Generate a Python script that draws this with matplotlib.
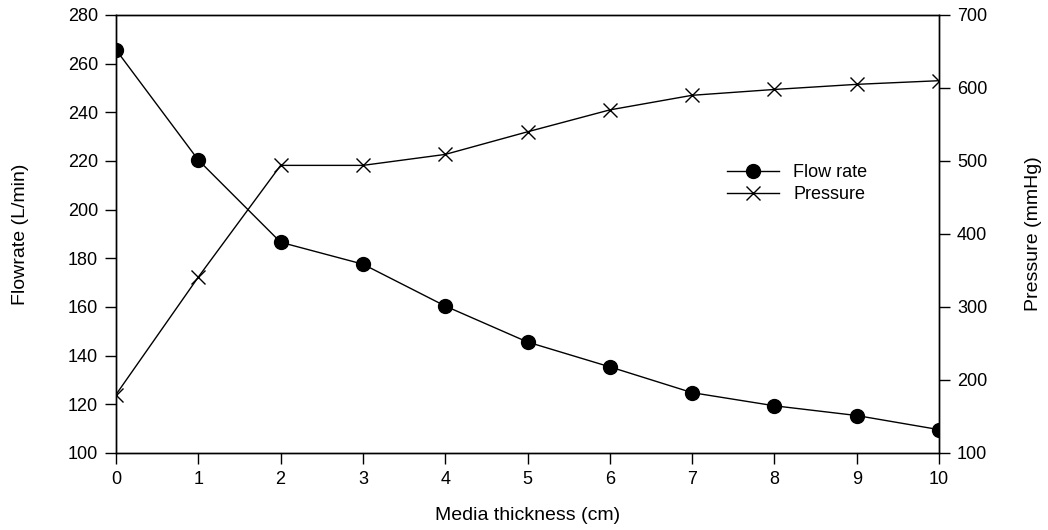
import matplotlib.pyplot as plt

plt.rcParams['font.family'] = ['Liberation Sans', 'DejaVu Sans']

thickness = [0, 1, 2, 3, 4, 5, 6, 7, 8, 9, 10]
flow_rate = [265.7, 220.4, 186.6, 177.6, 160.4, 145.6, 135.4, 124.8, 119.4, 115.4, 109.6]
pressure = [180, 341, 494, 494, 509, 540, 570, 590, 598, 605, 610]

fig = plt.figure(figsize=(10.48, 5.30), dpi=100)
ax = fig.add_axes([0.1107, 0.1453, 0.7853, 0.8264])
ax2 = ax.twinx()

l1, = ax.plot(thickness, flow_rate, color='black', lw=1, marker='o', ms=10,
              label='Flow rate')
l2, = ax2.plot(thickness, pressure, color='black', lw=1, marker='x', ms=10,
               mew=1, label='Pressure')

ax.set_xlim(0, 10)
ax.set_ylim(100, 280)
ax2.set_ylim(100, 700)
ax.set_xticks(thickness)
ax.set_yticks(range(100, 281, 20))
ax2.set_yticks(range(100, 701, 100))

for a in (ax, ax2):
    a.tick_params(direction='out', length=8, width=1, labelsize=13, pad=5)
    for s in a.spines.values():
        s.set_linewidth(1)

ax.set_xlabel('Media thickness (cm)', fontsize=14, labelpad=14)
ax.set_ylabel('Flowrate (L/min)', fontsize=14, labelpad=28)
ax2.set_ylabel('Pressure (mmHg)', fontsize=14, labelpad=27)

ax.legend(handles=[l1, l2], loc='upper left', bbox_to_anchor=(0.742, 0.659),
          frameon=False, fontsize=13, handlelength=2.9, borderpad=0,
          borderaxespad=0, handletextpad=0.8, labelspacing=0.25)

fig.savefig('out.png', dpi=100)
